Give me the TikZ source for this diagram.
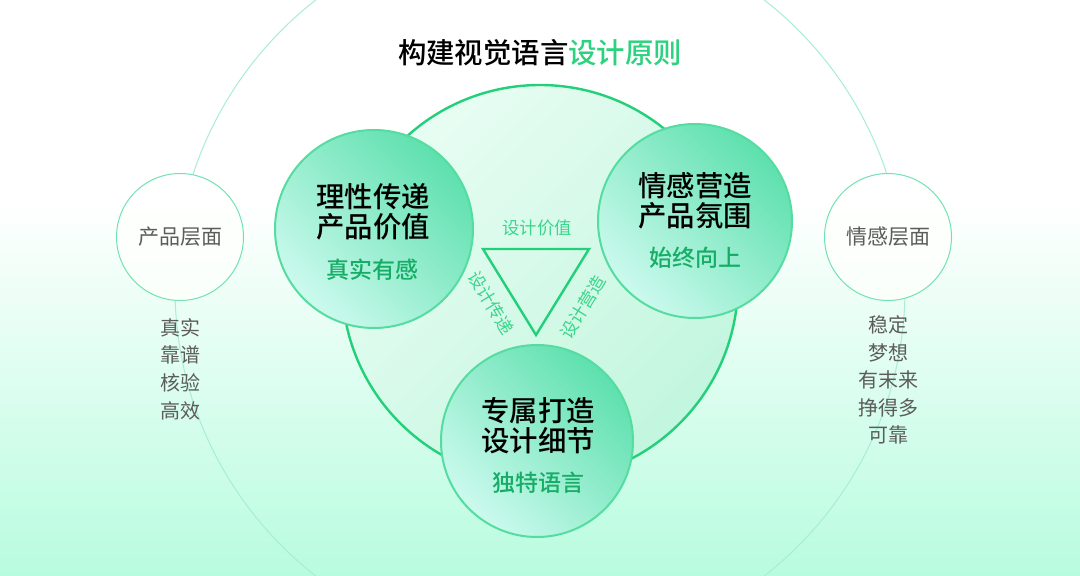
\documentclass[tikz,border=0pt]{standalone}
\usepackage{fontspec}
\newfontfamily\cjk{Noto Sans CJK SC}
\newfontfamily\cjkmed{Noto Sans CJK SC Medium}
\definecolor{ringgreen}{HTML}{22D07A}
\definecolor{bubedge}{HTML}{55DCA0}
\definecolor{bubdark}{HTML}{5EE0AE}
\definecolor{bublight}{HTML}{CCFAEE}
\definecolor{corelight}{HTML}{E8FDF3}
\definecolor{coredark}{HTML}{C2F6DE}
\definecolor{subgreen}{HTML}{17AD66}
\definecolor{titlegreen}{HTML}{2CD27E}
\definecolor{tagreen}{HTML}{3BD58B}
\definecolor{outline}{HTML}{A8EED2}
\definecolor{layeredge}{HTML}{72E2B2}
\definecolor{bgmint}{HTML}{B8FCDF}
\definecolor{greytxt}{HTML}{5C5C5C}
\tikzset{
  bubble/.style={circle, inner sep=0pt, draw=bubedge, line width=1pt,
    top color=bubdark, bottom color=bublight, shading angle=-45},
  layer/.style={circle, inner sep=0pt, draw=layeredge, line width=.5pt,
    top color=white, bottom color=green!2, minimum size=63.5pt},
  headtxt/.style={font=\cjkmed\fontsize{14.2}{15}\selectfont, align=center},
  subtxt/.style={font=\cjkmed\fontsize{11.5}{12}\selectfont, text=subgreen},
  edgetxt/.style={font=\cjk\fontsize{8.7}{9}\selectfont, text=tagreen},
  layertxt/.style={font=\cjk\fontsize{10.5}{11}\selectfont, text=greytxt},
  listtxt/.style={font=\cjk\fontsize{10}{13.8}\selectfont, text=greytxt, align=center}
}
\begin{document}
\begin{tikzpicture}[x=.5pt, y=-.5pt]
 \useasboundingbox (0,0) rectangle (1080,576);
 \clip (0,0) rectangle (1080,576);
 \fill[white] (0,0) rectangle (1080,201);
 \shade[top color=white, bottom color=bgmint] (0,200) rectangle (1080,576);
 \draw[outline, line width=.5pt] (540,288) circle[radius=182.5pt];
 \node[layer] (product) at (180,237) {};
 \node[layer] (feeling) at (888,237) {};
 \node[circle, inner sep=0pt, minimum size=198pt, draw=ringgreen, line width=1.2pt,
   top color=corelight, bottom color=coredark, shading angle=45] (core) at (540,283) {};
 \node[bubble, minimum size=99pt] (reason) at (374,229) {};
 \node[bubble, minimum size=97pt] (mood) at (695,221) {};
 \node[bubble, minimum size=96pt] (craft) at (537,441) {};
 \coordinate (ta) at (483,249);
 \coordinate (tb) at (589,249);
 \coordinate (tc) at (536,335);
 \draw[ringgreen, line width=1.2pt, line join=miter] (ta) -- (tb) -- (tc) -- cycle;
 \node[font=\cjkmed\fontsize{14.2}{15}\selectfont] (title) at (540,53)
   {构建视觉语言{\color{titlegreen}设计原则}};
 \node[headtxt] (reasonhead) at (373,212) {理性传递\\产品价值};
 \node[subtxt] (reasonsub) at (372,270) {真实有感};
 \node[headtxt] (moodhead) at (695,201) {情感营造\\产品氛围};
 \node[subtxt] (moodsub) at (695,258) {始终向上};
 \node[headtxt] (crafthead) at (538,426) {专属打造\\设计细节};
 \node[subtxt] (craftsub) at (538,483) {独特语言};
 \node[edgetxt] (valuetag) at (537,228) {设计价值};
 \node[edgetxt, rotate=-58.4] (passtag) at (491,303) {设计传递};
 \node[edgetxt, rotate=58.4] (buildtag) at (583,307) {设计营造};
 \node[layertxt] (producttxt) at (180,237) {产品层面};
 \node[layertxt] (feelingtxt) at (888,237) {情感层面};
 \node[listtxt] (productlist) at (180,369) {真实\\靠谱\\核验\\高效};
 \node[listtxt] (feelinglist) at (888,380) {稳定\\梦想\\有末来\\挣得多\\可靠};
\end{tikzpicture}
\end{document}
